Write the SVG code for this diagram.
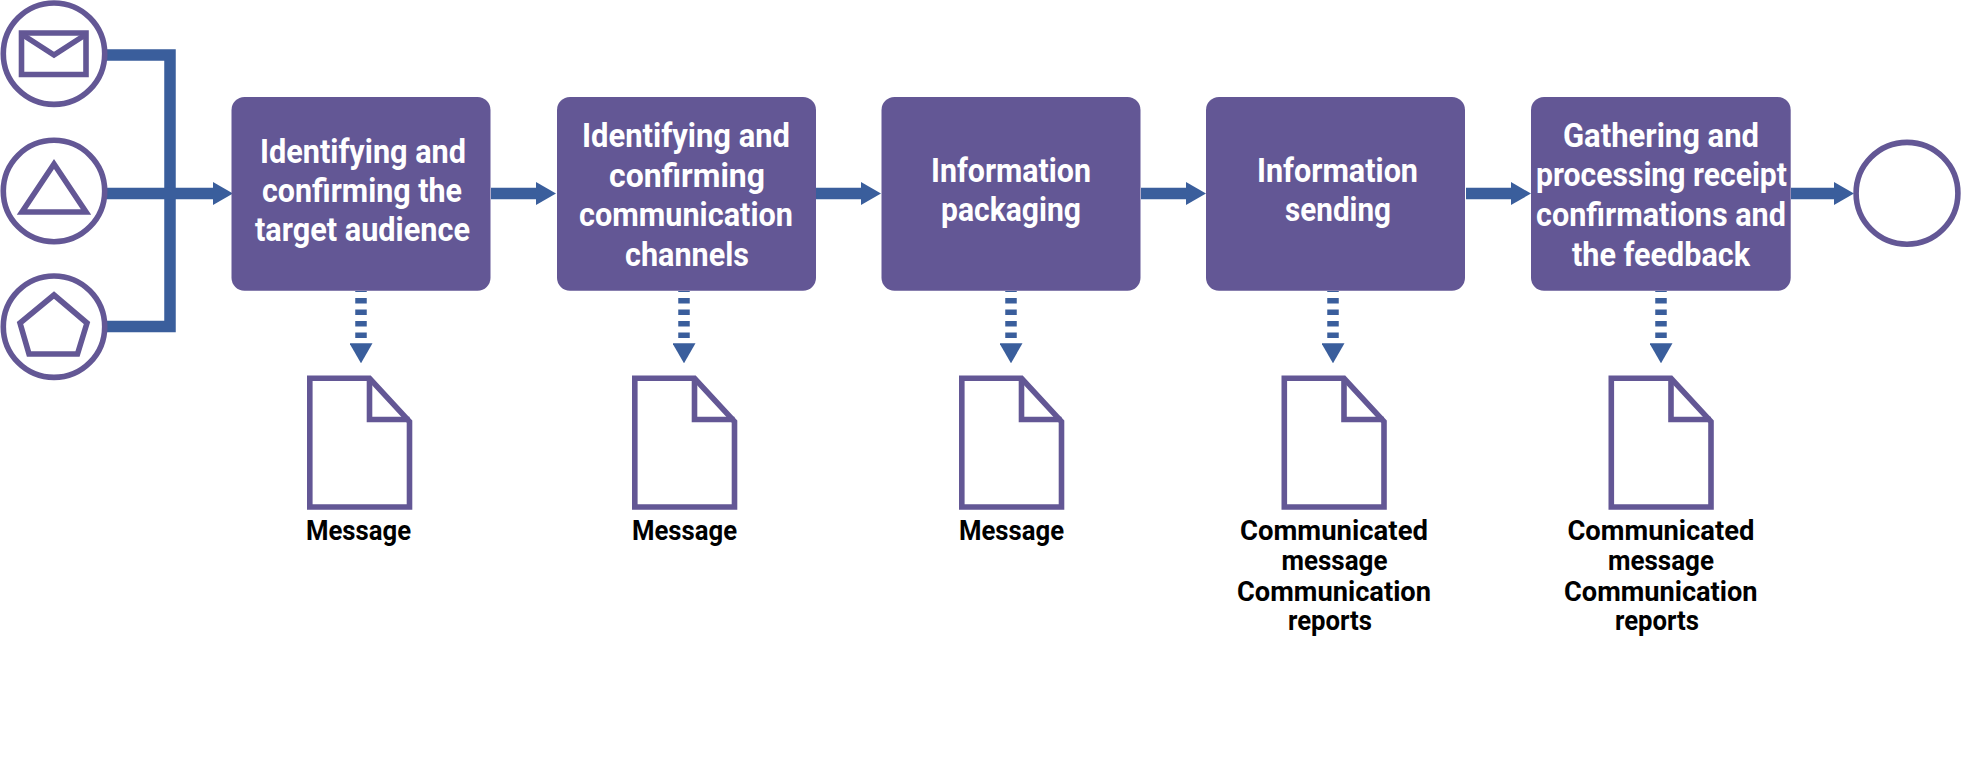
<svg xmlns="http://www.w3.org/2000/svg" width="1961" height="777" viewBox="0 0 1961 777">
<style>
.ic{fill:#fff;stroke:#635795;stroke-width:5.6}
.ln{fill:none;stroke:#635795;stroke-width:5.6}
.box{fill:#635795}
.t{font-family:"Roboto","Liberation Sans",sans-serif;font-weight:700;font-size:33px;fill:#fff}
.l{font-family:"Roboto","Liberation Sans",sans-serif;font-weight:700;font-size:28.5px;fill:#000}
.c{fill:none;stroke:#3a5e9c;stroke-width:11.5}
.d{fill:none;stroke:#3a5e9c;stroke-width:11.5;stroke-dasharray:5.5 6;stroke-dashoffset:4.5}
</style>
<defs>
<marker id="ah" markerUnits="userSpaceOnUse" markerWidth="20" markerHeight="23" refX="0" refY="11.5" orient="auto"><path d="M0,0L20,11.5L0,23z" fill="#3a5e9c"/></marker>
<g id="doc"><path class="ic" stroke-linejoin="miter" d="M2.8,2.8H62.5L102.5,46V131.5H2.8z"/><path class="ln" d="M62.5,2.8V44H102.5"/></g>
</defs>
<g id="connectors">
<path class="c" d="M105,55H170V326.5H105"/>
<path class="c" marker-end="url(#ah)" d="M105,193.5H213"/>
<path class="c" marker-end="url(#ah)" d="M491,193.5H536"/>
<path class="c" marker-end="url(#ah)" d="M816,193.5H861"/>
<path class="c" marker-end="url(#ah)" d="M1141,193.5H1186"/>
<path class="c" marker-end="url(#ah)" d="M1466,193.5H1511"/>
<path class="c" marker-end="url(#ah)" d="M1791,193.5H1834"/>
<path class="d" marker-end="url(#ah)" d="M361,291V343.3"/>
<path class="d" marker-end="url(#ah)" d="M684,291V343.3"/>
<path class="d" marker-end="url(#ah)" d="M1011,291V343.3"/>
<path class="d" marker-end="url(#ah)" d="M1333,291V343.3"/>
<path class="d" marker-end="url(#ah)" d="M1661,291V343.3"/>
</g>
<g id="start-mail"><circle class="ic" cx="54" cy="53.7" r="50.7"/><path class="ln" d="M21.5,33H86V74.5H21.5z"/><path class="ln" d="M23,35L54,55L85,35"/></g>
<g id="start-triangle"><circle class="ic" cx="54" cy="191" r="50.7"/><path class="ln" d="M54,164L22,212H86z"/></g>
<g id="start-pentagon"><circle class="ic" cx="54" cy="326.7" r="50.7"/><path class="ln" d="M54,295L87,323L77.5,354H29L20,323z"/></g>
<g id="step-1"><rect class="box" x="231.5" y="97" width="259" height="193.7" rx="13"/>
<text class="t" x="260" y="162.7" textLength="206" lengthAdjust="spacingAndGlyphs">Identifying and</text>
<text class="t" x="262" y="201.7" textLength="200" lengthAdjust="spacingAndGlyphs">confirming the</text>
<text class="t" x="255" y="240.7" textLength="215" lengthAdjust="spacingAndGlyphs">target audience</text></g>
<g id="step-2"><rect class="box" x="557" y="97" width="259" height="193.7" rx="13"/>
<text class="t" x="582" y="147" textLength="208" lengthAdjust="spacingAndGlyphs">Identifying and</text>
<text class="t" x="609" y="186.5" textLength="156" lengthAdjust="spacingAndGlyphs">confirming</text>
<text class="t" x="579" y="226" textLength="214" lengthAdjust="spacingAndGlyphs">communication</text>
<text class="t" x="625" y="265.5" textLength="124" lengthAdjust="spacingAndGlyphs">channels</text></g>
<g id="step-3"><rect class="box" x="881.5" y="97" width="259" height="193.7" rx="13"/>
<text class="t" x="931" y="182" textLength="160" lengthAdjust="spacingAndGlyphs">Information</text>
<text class="t" x="941" y="221" textLength="140" lengthAdjust="spacingAndGlyphs">packaging</text></g>
<g id="step-4"><rect class="box" x="1206" y="97" width="259" height="193.7" rx="13"/>
<text class="t" x="1257" y="182" textLength="161" lengthAdjust="spacingAndGlyphs">Information</text>
<text class="t" x="1285" y="221" textLength="106" lengthAdjust="spacingAndGlyphs">sending</text></g>
<g id="step-5"><rect class="box" x="1531" y="97" width="259.7" height="193.7" rx="13"/>
<text class="t" x="1563" y="146.7" textLength="196" lengthAdjust="spacingAndGlyphs">Gathering and</text>
<text class="t" x="1536" y="186" textLength="251" lengthAdjust="spacingAndGlyphs">processing receipt</text>
<text class="t" x="1536" y="225.7" textLength="250" lengthAdjust="spacingAndGlyphs">confirmations and</text>
<text class="t" x="1572" y="266" textLength="178" lengthAdjust="spacingAndGlyphs">the feedback</text></g>
<g id="end"><circle class="ic" cx="1907" cy="193.3" r="50.9"/></g>
<g id="doc-1"><use href="#doc" x="307" y="375.5"/><text class="l" x="306" y="540" textLength="105" lengthAdjust="spacingAndGlyphs">Message</text></g>
<g id="doc-2"><use href="#doc" x="632" y="375.5"/><text class="l" x="632" y="540" textLength="105" lengthAdjust="spacingAndGlyphs">Message</text></g>
<g id="doc-3"><use href="#doc" x="959" y="375.5"/><text class="l" x="959" y="540" textLength="105" lengthAdjust="spacingAndGlyphs">Message</text></g>
<g id="doc-4"><use href="#doc" x="1281.5" y="375.5"/>
<text class="l" x="1240" y="540" textLength="188" lengthAdjust="spacingAndGlyphs">Communicated</text>
<text class="l" x="1281.5" y="570" textLength="106" lengthAdjust="spacingAndGlyphs">message</text>
<text class="l" x="1237" y="600.5" textLength="194" lengthAdjust="spacingAndGlyphs">Communication</text>
<text class="l" x="1288" y="630" textLength="84" lengthAdjust="spacingAndGlyphs">reports</text></g>
<g id="doc-5"><use href="#doc" x="1608.5" y="375.5"/>
<text class="l" x="1567.4" y="540" textLength="187" lengthAdjust="spacingAndGlyphs">Communicated</text>
<text class="l" x="1608" y="570" textLength="106" lengthAdjust="spacingAndGlyphs">message</text>
<text class="l" x="1564" y="600.5" textLength="193.6" lengthAdjust="spacingAndGlyphs">Communication</text>
<text class="l" x="1615" y="630" textLength="84" lengthAdjust="spacingAndGlyphs">reports</text></g>
</svg>
